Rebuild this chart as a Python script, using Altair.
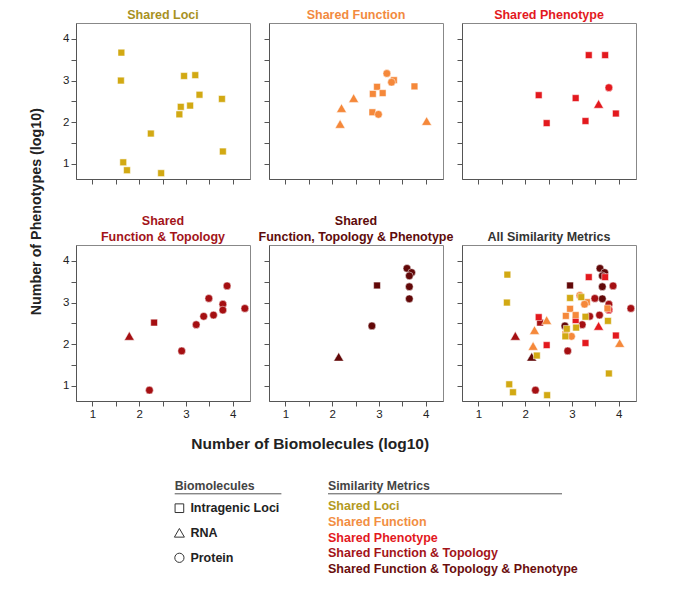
import altair as alt
import pandas as pd

FONT = "Liberation Sans"

METRICS = [
    "Shared Loci",
    "Shared Function",
    "Shared Phenotype",
    "Shared Function & Topology",
    "Shared Function & Topology & Phenotype",
]
BIOMOLECULES = ["Intragenic Loci", "RNA", "Protein"]
BIO_CODE = {"S": "Intragenic Loci", "T": "RNA", "C": "Protein"}

# ---- data (log10 biomolecules, log10 phenotypes, type) ----
loci_x = [1.62, 1.61, 1.66, 1.74, 2.25, 2.47, 2.86, 2.89, 2.96, 3.09, 3.20, 3.29, 3.77, 3.79]
loci_y = [3.67, 3.00, 1.04, 0.85, 1.73, 0.78, 2.19, 2.37, 3.11, 2.40, 3.13, 2.66, 2.56, 1.30]
loci_t = ["S", "S", "S", "S", "S", "S", "S", "S", "S", "S", "S", "S", "S", "S"]

func_x = [3.17, 3.32, 3.27, 2.96, 2.87, 3.08, 3.76, 2.86, 2.99, 2.46, 2.20, 2.17, 4.02]
func_y = [3.17, 3.01, 2.96, 2.85, 2.68, 2.70, 2.86, 2.24, 2.19, 2.58, 2.34, 1.96, 2.03]
func_t = ["C", "S", "C", "S", "S", "S", "S", "S", "C", "T", "T", "T", "T"]

phen_x = [3.36, 3.71, 3.79, 2.29, 3.08, 3.57, 3.94, 2.46, 3.29]
phen_y = [3.61, 3.61, 2.83, 2.65, 2.58, 2.44, 2.21, 1.98, 2.03]
phen_t = ["S", "S", "C", "S", "S", "T", "S", "S", "S"]

ft_x = [1.79, 2.32, 2.22, 2.91, 3.22, 3.38, 3.59, 3.49, 3.79, 3.79, 3.88, 4.26]
ft_y = [2.20, 2.52, 0.90, 1.84, 2.47, 2.67, 2.70, 3.10, 2.96, 2.82, 3.40, 2.86]
ft_t = ["T", "S", "C", "C", "C", "C", "C", "C", "C", "C", "C", "C"]

ftp_x = [2.14, 2.96, 2.85, 3.60, 3.70, 3.65, 3.65, 3.65]
ftp_y = [1.70, 3.41, 2.44, 3.82, 3.72, 3.64, 3.38, 3.09]
ftp_t = ["T", "S", "C", "C", "C", "C", "C", "C"]

SERIES = [
    (loci_x, loci_y, loci_t),
    (func_x, func_y, func_t),
    (phen_x, phen_y, phen_t),
    (ft_x, ft_y, ft_t),
    (ftp_x, ftp_y, ftp_t),
]

PANEL_TITLES = [
    "Shared Loci",
    "Shared Function",
    "Shared Phenotype",
    ["Shared", "Function & Topology"],
    ["Shared", "Function, Topology & Phenotype"],
    "All Similarity Metrics",
]

# ---- styles ----
MARK_COLORS = ["#D2A913", "#F5883A", "#E3191E", "#A50F12", "#620808"]
TITLE_COLORS = ["#A8911F", "#F28A3E", "#E3191E", "#A3141A", "#5E0B0B", "#333333"]
LEGEND_COLORS = ["#B39A22", "#F28E42", "#E3191E", "#A3141A", "#6A0E0E"]

TICKS = [1, 1.5, 2, 2.5, 3, 3.5, 4]
XDOM = [0.65, 4.37]
YDOM = [0.64, 4.38]
W, H = 174, 156
LABEL_EXPR = "datum.value % 1 === 0 ? format(datum.value, 'd') : ''"


def frame(i):
    xs, ys, ts = SERIES[i]
    return pd.DataFrame({
        "x": xs,
        "y": ys,
        "bio": [BIO_CODE[t] for t in ts],
        "metric": METRICS[i],
        "z": -i,
    })


frames = [frame(i) for i in range(5)]
all_df = pd.concat(frames, ignore_index=True)

SIZE_ENC = (
    alt.when(alt.datum.bio == "RNA").then(alt.value(100))
    .when(alt.datum.bio == "Protein").then(alt.value(60))
    .otherwise(alt.value(46))
)


def panel(df, k, xlab, ylab):
    return alt.Chart(df).mark_point(
        filled=True, opacity=1, stroke="white", strokeWidth=0.5
    ).encode(
        x=alt.X("x:Q", scale=alt.Scale(domain=XDOM, nice=False, zero=False),
                axis=alt.Axis(values=TICKS, title=None, labels=xlab, labelExpr=LABEL_EXPR)),
        y=alt.Y("y:Q", scale=alt.Scale(domain=YDOM, nice=False, zero=False),
                axis=alt.Axis(values=TICKS, title=None, labels=ylab, labelExpr=LABEL_EXPR)),
        color=alt.Color("metric:N", scale=alt.Scale(domain=METRICS, range=MARK_COLORS), legend=None),
        shape=alt.Shape("bio:N", scale=alt.Scale(domain=BIOMOLECULES, range=["square", "triangle-up", "circle"]), legend=None),
        size=SIZE_ENC,
        order=alt.Order("z:Q"),
    ).properties(
        width=W, height=H,
        title=alt.TitleParams(PANEL_TITLES[k], color=TITLE_COLORS[k], fontSize=12.5, font=FONT,
                              fontWeight="bold", anchor="middle", offset=2, lineHeight=16),
    )


panels = [
    panel(frames[0], 0, False, True),
    panel(frames[1], 1, False, False),
    panel(frames[2], 2, False, False),
    panel(frames[3], 3, True, True),
    panel(frames[4], 4, True, False),
    panel(all_df, 5, True, False),
]

# ---- annotation chart: axis titles and the legends (pixel layout) ----
texts = pd.DataFrame([
    {"text": "Number of Phenotypes (log10)", "px": -39.3, "py": -255.3, "col": "#222222", "kind": "ytitle"},
    {"text": "Number of Biomolecules (log10)", "px": 234.2, "py": -23.5, "col": "#222222", "kind": "xtitle"},
    {"text": "Biomolecules", "px": 98.7, "py": 18.5, "col": "#444444", "kind": "head"},
    {"text": "Similarity Metrics", "px": 252, "py": 18.5, "col": "#444444", "kind": "head"},
])
bio_labels = pd.DataFrame({
    "text": BIOMOLECULES,
    "px": [114.4] * 3,
    "py": [41.2, 65.8, 90.8],
    "shape": ["square", "triangle-up", "circle"],
    "sx": [103.4] * 3,
    "ss": [75, 100, 85],
})
met_labels = pd.DataFrame({
    "text": METRICS,
    "col": LEGEND_COLORS,
    "px": [252] * 5,
    "py": [38.8, 54.8, 70.5, 86.2, 102.2],
})
rules = pd.DataFrame({"x1": [98.7, 252], "x2": [205.4, 486], "y": [26.8, 26.8]})


def txt(df, size, **kw):
    return alt.Chart(df).mark_text(
        font=FONT, fontWeight="bold", fontSize=size, baseline="middle", **kw
    ).encode(
        x=alt.X("px:Q", scale=None, axis=None), y=alt.Y("py:Q", scale=None, axis=None),
        text="text:N", color=alt.Color("col:N", scale=None),
    )


ann_ytitle = txt(texts[texts.kind == "ytitle"], 14.3, angle=270, align="center")
ann_xtitle = txt(texts[texts.kind == "xtitle"], 15.5, align="center")
ann_heads = txt(texts[texts.kind == "head"], 12.3, align="left")
ann_rules = alt.Chart(rules).mark_rule(color="#555555", strokeWidth=1).encode(
    x=alt.X("x1:Q", scale=None, axis=None), x2="x2:Q", y=alt.Y("y:Q", scale=None, axis=None),
)
ann_syms = alt.Chart(bio_labels).mark_point(filled=False, color="#333333", strokeWidth=1, opacity=1).encode(
    x=alt.X("sx:Q", scale=None, axis=None), y=alt.Y("py:Q", scale=None, axis=None),
    shape=alt.Shape("shape:N", scale=None),
    size=alt.Size("ss:Q", scale=None),
)
ann_bio = alt.Chart(bio_labels).mark_text(
    font=FONT, fontWeight="bold", fontSize=12.5, baseline="middle", align="left", color="#222222"
).encode(
    x=alt.X("px:Q", scale=None, axis=None), y=alt.Y("py:Q", scale=None, axis=None), text="text:N",
)
ann_met = txt(met_labels, 12.5, align="left")

annotations = alt.layer(
    ann_ytitle, ann_xtitle, ann_heads, ann_rules, ann_syms, ann_bio, ann_met
).properties(width=W, height=112, view=alt.ViewBackground(stroke=None))

chart = alt.concat(
    *panels, annotations,
    columns=3, bounds="flush", align="each", spacing={"row": 66, "column": 19},
).properties(
    padding={"left": 21, "top": 0, "right": 5, "bottom": 5},
    background="white",
).configure_axis(
    domainColor="#555555", tickColor="#555555", tickSize=5, domainWidth=1, tickWidth=1,
    labelFont=FONT, labelFontSize=11.5, labelColor="#222222", labelPadding=2, grid=False,
).configure_view(
    stroke="#888888", strokeWidth=1,
)

chart.save("out.html", embed_options={"renderer": "svg", "actions": False})
